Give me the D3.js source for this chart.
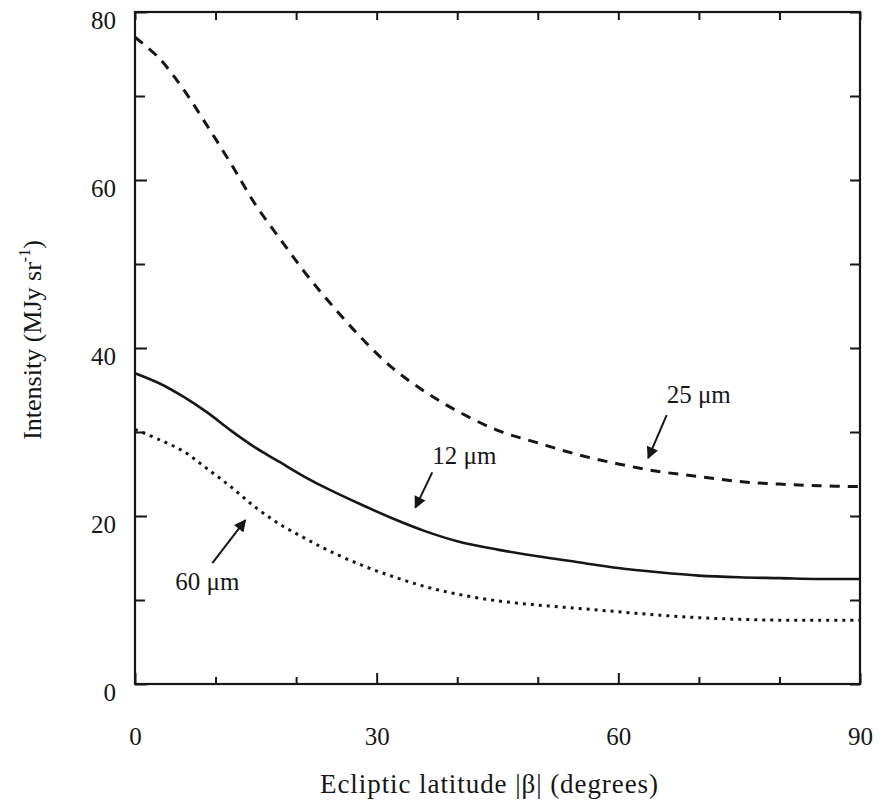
<!DOCTYPE html>
<html>
<head>
<meta charset="utf-8">
<script src="https://cdn.jsdelivr.net/npm/d3@7"></script>
<style>
  body { margin: 0; background: #fff; }
  text { font-family: "Liberation Serif", "DejaVu Serif", serif; fill: #161616; }
</style>
</head>
<body>
<script>
// latitude (degrees) and intensity of each band (MJy/sr)
var latitude = [0, 3, 6, 9, 12, 15, 18, 21, 24, 28, 32, 36, 40, 45, 50, 55, 60, 65, 70, 75, 80, 85, 90];
var band25 = [77, 74.5, 70.8, 66.4, 61.8, 57.0, 53.0, 49.1, 45.6, 41.3, 37.6, 34.8, 32.5, 30.2, 28.7, 27.3, 26.2, 25.3, 24.7, 24.1, 23.8, 23.6, 23.5];
var band12 = [37.0, 35.8, 34.2, 32.3, 30.1, 28.1, 26.4, 24.7, 23.2, 21.4, 19.7, 18.2, 17.0, 16.0, 15.2, 14.5, 13.8, 13.3, 12.9, 12.7, 12.6, 12.5, 12.5];
var band60 = [30.3, 29.1, 27.7, 25.6, 23.4, 21.0, 19.0, 17.4, 15.9, 14.2, 12.8, 11.6, 10.7, 9.9, 9.4, 9.0, 8.6, 8.2, 7.9, 7.7, 7.6, 7.6, 7.6];

var xMajor = [0, 30, 60, 90];
var xMinor = [10, 20, 40, 50, 70, 80];
var yMajor = [0, 20, 40, 60, 80];
var yMinor = [10, 30, 50, 70];

// annotation: label text, label anchor, arrow start, arrow tip (data units)
var labels = ["25 \u03bcm", "12 \u03bcm", "60 \u03bcm"];
var labelPos = [[66.0, 33.5], [36.9, 26.2], [5.0, 11.2]];
var arrowFrom = [[66.0, 32.0], [36.9, 25.2], [9.6, 14.4]];
var arrowTo = [[63.7, 26.9], [34.8, 21.0], [13.7, 19.5]];

var width = 887,
    height = 802;

var svg = d3.select("body")
    .append("svg")
    .attr("width", width)
    .attr("height", height);

var x = d3.scaleLinear().domain([0, 90]).range([135, 860]);
var y = d3.scaleLinear().domain([0, 80]).range([684, 12]);

svg.append("defs").append("marker")
    .attr("id", "head")
    .attr("viewBox", "0 0 10 10")
    .attr("refX", 9)
    .attr("refY", 5)
    .attr("markerWidth", 8)
    .attr("markerHeight", 6)
    .attr("markerUnits", "strokeWidth")
    .attr("orient", "auto")
    .append("path")
    .attr("d", "M0,0 L10,5 L0,10 z")
    .attr("fill", "#161616");

//axes, ticks pointing into the frame
function addAxis(axis, tr, cls) {
    var g = svg.append("g")
        .attr("class", cls)
        .attr("transform", tr)
        .call(axis);
    g.select(".domain").remove();
    g.selectAll("line").attr("stroke", "#161616").attr("stroke-width", 2);
    return g;
}

var bx = addAxis(d3.axisBottom(x).tickValues(xMajor).tickSize(-11).tickPadding(43).tickFormat(d3.format("d")),
    "translate(0," + y(0) + ")", "xaxis");
bx.selectAll("text").attr("font-size", 25).attr("font-family", null);
addAxis(d3.axisBottom(x).tickValues(xMinor).tickSize(-7).tickFormat(""), "translate(0," + y(0) + ")", "xminor");
addAxis(d3.axisTop(x).tickValues(xMajor.concat(xMinor)).tickSize(-8).tickFormat(""), "translate(0," + y(80) + ")", "xtop");

var ly = addAxis(d3.axisLeft(y).tickValues(yMajor).tickSize(-12).tickPadding(19).tickFormat(d3.format("d")),
    "translate(" + x(0) + ",0)", "yaxis");
ly.selectAll("text").attr("font-size", 25).attr("font-family", null).attr("y", 8);
addAxis(d3.axisLeft(y).tickValues(yMinor).tickSize(-10).tickFormat(""), "translate(" + x(0) + ",0)", "yminor");
addAxis(d3.axisRight(y).tickValues(yMajor.concat(yMinor)).tickSize(-10).tickFormat(""), "translate(" + x(90) + ",0)", "yright");

svg.append("rect")
    .attr("x", x(0))
    .attr("y", y(80))
    .attr("width", x(90) - x(0))
    .attr("height", y(0) - y(80))
    .attr("fill", "none")
    .attr("stroke", "#161616")
    .attr("stroke-width", 2.2);

//curves
var line = d3.line()
    .x(function (d) { return x(d[0]); })
    .y(function (d) { return y(d[1]); })
    .curve(d3.curveCatmullRom.alpha(0.5));

var series = [
    { vals: band25, dash: "10,8", w: 3 },
    { vals: band12, dash: null, w: 2.6 },
    { vals: band60, dash: "3,5", w: 3 }
];

series.forEach(function (s) {
    svg.append("path")
        .datum(latitude.map(function (d, i) { return [d, s.vals[i]]; }))
        .attr("fill", "none")
        .attr("stroke", "#161616")
        .attr("stroke-width", s.w)
        .attr("stroke-dasharray", s.dash)
        .attr("d", line);
});

//labels with arrows
labels.forEach(function (t, i) {
    svg.append("text")
        .attr("x", x(labelPos[i][0]))
        .attr("y", y(labelPos[i][1]))
        .attr("font-size", 25)
        .text(t);
    svg.append("line")
        .attr("x1", x(arrowFrom[i][0]))
        .attr("y1", y(arrowFrom[i][1]))
        .attr("x2", x(arrowTo[i][0]))
        .attr("y2", y(arrowTo[i][1]))
        .attr("stroke", "#161616")
        .attr("stroke-width", 2)
        .attr("marker-end", "url(#head)");
});

//axis titles
svg.append("text")
    .attr("x", 489)
    .attr("y", 793)
    .attr("text-anchor", "middle")
    .attr("font-size", 27)
    .attr("textLength", 338)
    .attr("lengthAdjust", "spacing")
    .text("Ecliptic latitude |\u03b2| (degrees)");

var yt = svg.append("text")
    .attr("transform", "translate(41,340) rotate(-90)")
    .attr("text-anchor", "middle")
    .attr("font-size", 26);
yt.append("tspan").text("Intensity (MJy sr");
yt.append("tspan").attr("font-size", 16).attr("dy", -11).text("-1");
yt.append("tspan").attr("dy", 11).text(")");
</script>
</body>
</html>
